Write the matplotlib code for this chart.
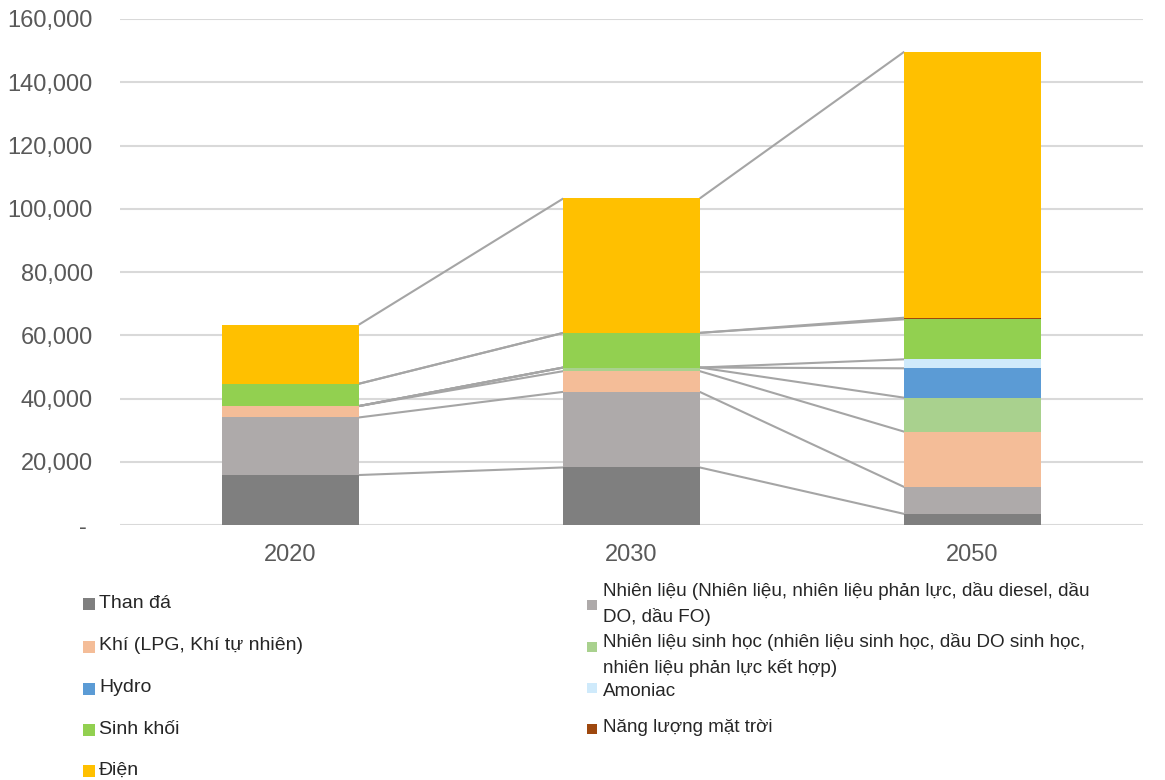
import matplotlib
matplotlib.use("Agg")
import matplotlib.pyplot as plt
from matplotlib.patches import Rectangle
from matplotlib.ticker import FuncFormatter, MultipleLocator
import numpy as np

plt.rcParams['font.family'] = ['Liberation Sans', 'DejaVu Sans']

# Energy demand by fuel type
categories = ['2020', '2030', '2050']
than_da = [15800, 18200, 3500]
nhien_lieu = [18200, 23900, 8500]
khi = [3600, 6550, 17500]
nhien_lieu_sinh_hoc = [0, 1150, 10750]
hydro = [0, 0, 9300]
amoniac = [0, 0, 2850]
sinh_khoi = [7050, 10950, 12650]
nang_luong_mat_troi = [0, 0, 500]
dien = [18650, 42500, 84100]

series_values = [than_da, nhien_lieu, khi, nhien_lieu_sinh_hoc, hydro,
                 amoniac, sinh_khoi, nang_luong_mat_troi, dien]
series_colors = ['#7F7F7F', '#AEAAAA', '#F4BD98', '#A9D18E', '#5B9BD5',
                 '#CFEAFB', '#92D050', '#9E480E', '#FFC000']
legend_left = [
    (0, ['Than đá']),
    (2, ['Khí (LPG, Khí tự nhiên)']),
    (4, ['Hydro']),
    (6, ['Sinh khối']),
    (8, ['Điện']),
]
legend_right = [
    (1, ['Nhiên liệu (Nhiên liệu, nhiên liệu phản lực, dầu diesel, dầu',
         'DO, dầu FO)']),
    (3, ['Nhiên liệu sinh học (nhiên liệu sinh học, dầu DO sinh học,',
         'nhiên liệu phản lực kết hợp)']),
    (5, ['Amoniac']),
    (7, ['Năng lượng mặt trời']),
]

W, H = 1165, 780
fig = plt.figure(figsize=(W / 100, H / 100), dpi=100)
ax = fig.add_axes([120 / W, 1 - 525 / H, 1023 / W, 506 / H])

x = np.arange(len(categories))
bar_w = 0.4
bottom = np.zeros(len(categories))
tops = []
for vals, col in zip(series_values, series_colors):
    vals = np.array(vals, dtype=float)
    ax.bar(x, vals, bar_w, bottom=bottom, color=col, linewidth=0, zorder=3)
    bottom = bottom + vals
    tops.append(bottom.copy())

# series lines joining the stacked segment tops between bars
for t in tops:
    for i in range(len(categories) - 1):
        ax.plot([x[i] + bar_w / 2, x[i + 1] - bar_w / 2], [t[i], t[i + 1]],
                color='#A5A5A5', lw=1.5, zorder=2, solid_capstyle='butt')

ax.set_xlim(-0.5, len(categories) - 0.5)
ax.set_ylim(0, 160000)
ax.yaxis.set_major_locator(MultipleLocator(20000))
ax.yaxis.set_major_formatter(FuncFormatter(
    lambda v, p: '- ' if v == 0 else f'{int(v):,}'))
ax.set_xticks(x)
ax.set_xticklabels(categories)
ax.grid(axis='y', color='#D9D9D9', lw=1.5, zorder=0)
ax.set_axisbelow(True)
for s in ax.spines.values():
    s.set_visible(False)
ax.tick_params(axis='both', length=0, labelsize=17, colors='#595959')
ax.tick_params(axis='y', pad=19.5)
ax.tick_params(axis='x', pad=14)

# legend
txt_col = '#262626'


def legend_item(mx, my, sq, idx, lines, tx, ty, fs):
    fig.patches.append(Rectangle((mx / W, 1 - (my + sq / 2) / H), sq / W, sq / H,
                                 transform=fig.transFigure, facecolor=series_colors[idx],
                                 edgecolor='none'))
    for k, line in enumerate(lines):
        fig.text(tx / W, 1 - (ty + 26 * k) / H, line, fontsize=fs, color=txt_col,
                 ha='left', va='center')


left_y = [603, 646, 688, 729, 770]
for (idx, lines), yy in zip(legend_left, left_y):
    legend_item(83, yy + 1, 12, idx, lines, 99, yy, 14)

right_spec = [(605, 591), (647, 642), (688, 691), (729, 727)]
for (idx, lines), (my, ty) in zip(legend_right, right_spec):
    legend_item(587, my, 10, idx, lines, 603, ty, 13.6)

fig.savefig('out.png', dpi=100, facecolor='white')
